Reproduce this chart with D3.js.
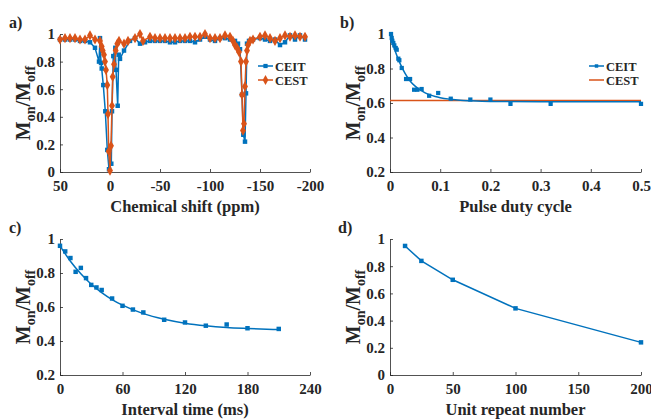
<!doctype html>
<html lang="en">
  <head>
    <meta charset="utf-8">
    <title>CEIT vs CEST</title>
    <script src="https://d3js.org/d3.v7.min.js"></script>
    <style>
      body { margin: 0; background: #fff; }
      svg text { font-family: "Liberation Serif", "Times New Roman", serif; font-weight: bold; fill: #262626; }
    </style>
  </head>
  <body>
    <div id="chart"></div>
    <script>
      // ---- data ----
      // a) Z-spectra
      const shiftCEIT = [50,45,40,35,30,25,20,15,11,10,9,8.3,6.7,4.7,2.7,1,
        -1.3,-2,-3.3,-5.3,-6,-7.7,-8.7,-10,-14,
        -20,-25,-30,-35,-40,-45,-50,-55,-60,-65,-70,-75,-80,-85,-90,-95,-100,-105,-110,-115,-120,-125,
        -128,-130,-132,-133.3,-135,-136,-137,-139,-143,
        -150,-155,-160,-165,-170,-175,-180,-185,-190,-195];
      const ratioCEIT = [0.96,0.96,0.96,0.96,0.95,0.95,0.94,0.90,0.80,0.97,0.79,0.75,0.63,0.44,0.16,0.02,
        0.06,0.44,0.84,0.90,0.74,0.48,0.85,0.82,0.88,
        0.95,0.97,0.93,0.94,0.95,0.95,0.95,0.95,0.94,0.94,0.95,0.95,0.95,0.94,0.96,0.98,0.96,0.95,0.97,0.97,0.96,0.95,
        0.93,0.89,0.56,0.27,0.22,0.57,0.93,0.95,0.96,
        0.97,0.96,0.95,0.96,0.92,0.94,0.99,0.96,0.99,0.96];
      const shiftCEST = [50,45,40,35,30,25,20,15,10,8.3,7.3,6,5,4,2.7,2,1.3,0,
        -1,-2,-2.7,-4,-5.7,-7.3,-9,-14,-18,-25,-30,-33,
        -40,-45,-50,-55,-60,-65,-70,-75,-80,-85,-90,-95,-100,-105,-110,-115,-120,
        -123,-125,-127,-129,-131,-132,-133,-134,-135,-136,-137,-138,-140,-143,
        -150,-155,-160,-165,-170,-175,-180,-185,-190,-195];
      const ratioCEST = [0.96,0.97,0.97,0.97,0.96,0.96,0.99,0.96,0.95,0.91,0.88,0.85,0.80,0.74,0.63,0.42,0.15,0.01,
        0.19,0.48,0.69,0.78,0.88,0.93,0.95,0.93,0.95,0.97,1.0,0.95,
        0.98,0.97,0.97,0.97,0.97,0.97,0.97,0.97,0.98,0.98,0.98,1.0,0.97,0.97,0.97,0.99,0.98,
        0.95,0.92,0.90,0.87,0.80,0.56,0.30,0.35,0.62,0.80,0.88,0.92,0.95,0.96,
        0.98,0.99,0.97,0.95,0.97,0.99,0.98,0.99,0.98,0.98];

      // b) pulse duty cycle
      const dutyCycle = [0.002,0.0034,0.0046,0.0066,0.0086,0.0114,0.0134,0.0166,0.0186,0.0234,0.032,0.040,
        0.048,0.0545,0.063,0.078,0.096,0.121,0.16,0.2,0.24,0.32,0.5];
      const ratioDuty = [1.0,0.977,0.961,0.948,0.934,0.919,0.909,0.857,0.848,0.803,0.739,0.739,
        0.677,0.677,0.681,0.642,0.658,0.625,0.62,0.62,0.595,0.595,0.595];
      const dutyFitX = [0,0.005,0.01,0.015,0.02,0.03,0.04,0.05,0.06,0.07,0.08,0.09,0.1,0.12,0.14,0.16,0.2,0.3,0.5];
      const dutyFitY = [1.0,0.95,0.905,0.865,0.83,0.772,0.728,0.698,0.676,0.659,0.647,0.638,0.631,0.622,0.616,0.613,0.609,0.607,0.607];
      const cestDuty = [0, 0.5];
      const cestLevel = [0.615, 0.615];

      // c) interval time
      const intervalTime = [0,5,10,15,20,25,30,35,40,50,60,70,80,100,120,140,160,180,210];
      const ratioInterval = [0.96,0.927,0.888,0.807,0.83,0.77,0.73,0.715,0.70,0.65,0.607,0.585,0.568,0.525,0.509,0.49,0.497,0.475,0.471];
      const intervalFitX = [0,10,20,30,40,50,60,80,100,120,140,160,180,210];
      const intervalFitY = [0.960,0.869,0.795,0.734,0.685,0.644,0.611,0.561,0.528,0.505,0.490,0.480,0.474,0.467];

      // d) unit repeat number
      const repeatNumber = [12,25,50,100,200];
      const ratioRepeat = [0.949,0.839,0.70,0.49,0.24];

      // ticks
      const ticksShift = [50,0,-50,-100,-150,-200];
      const ticksDuty = [0,0.1,0.2,0.3,0.4,0.5];
      const ticksInterval = [0,60,120,180,240];
      const ticksRepeat = [0,50,100,150,200];
      const ticksRatio0 = [0,0.2,0.4,0.6,0.8,1];
      const ticksRatio2 = [0.2,0.4,0.6,0.8,1];

      const blue = "#0072BD", orange = "#D95319", ink = "#262626";

      const svg = d3.select("#chart").append("svg")
        .attr("width", 651).attr("height", 419);

      function panel(opt) {
        const x = d3.scaleLinear().domain(opt.xDomain).range([opt.left, opt.right]);
        const y = d3.scaleLinear().domain(opt.yDomain).range([opt.bottom, opt.top]);
        const fmt = d => String(+d.toFixed(1));

        const gx = svg.append("g")
          .attr("transform", `translate(0,${opt.bottom})`)
          .call(d3.axisBottom(x).tickValues(opt.xTicks).tickSizeInner(-3).tickSizeOuter(0)
            .tickPadding(8).tickFormat(fmt));
        const gy = svg.append("g")
          .attr("transform", `translate(${opt.left},0)`)
          .call(d3.axisLeft(y).tickValues(opt.yTicks).tickSizeInner(-3).tickSizeOuter(0)
            .tickPadding(5).tickFormat(fmt));
        [gx, gy].forEach(g => {
          g.attr("font-family", null).attr("font-size", 15);
          g.selectAll("path, line").attr("stroke", ink).attr("stroke-width", 0.8);
        });

        // x title
        svg.append("text")
          .attr("x", (opt.left + opt.right) / 2)
          .attr("y", opt.bottom + 40)
          .attr("text-anchor", "middle")
          .attr("font-size", 16.5)
          .text(opt.xTitle);

        // y title M_on / M_off
        const yt = svg.append("text")
          .attr("transform", `translate(${opt.yTitleX},${(opt.top + opt.bottom) / 2}) rotate(-90)`)
          .attr("text-anchor", "middle")
          .attr("font-size", 20);
        yt.append("tspan").text("M");
        yt.append("tspan").attr("font-size", 14).attr("dy", 5).text("on");
        yt.append("tspan").attr("dy", -5).text("/M");
        yt.append("tspan").attr("font-size", 14).attr("dy", 5).text("off");

        // panel letter
        svg.append("text")
          .attr("x", opt.labelX).attr("y", opt.labelY)
          .attr("font-size", 16)
          .text(opt.label);

        return {x, y};
      }

      function drawLine(s, xs, ys, color, curve) {
        svg.append("path")
          .datum(xs.map((v, i) => [v, ys[i]]))
          .attr("fill", "none")
          .attr("stroke", color)
          .attr("stroke-width", 1.5)
          .attr("d", d3.line().x(d => s.x(d[0])).y(d => s.y(d[1])).curve(curve || d3.curveLinear));
      }

      function drawMarkers(s, xs, ys, color, type, size) {
        svg.append("g").selectAll("path")
          .data(xs.map((v, i) => [v, ys[i]]))
          .join("path")
          .attr("transform", d => `translate(${s.x(d[0])},${s.y(d[1])})`)
          .attr("d", d3.symbol().type(type).size(size))
          .attr("fill", color);
      }

      function legend(x0, y0, items) {
        items.forEach((it, i) => {
          const yy = y0 + i * 14;
          svg.append("line")
            .attr("x1", x0).attr("x2", x0 + 15).attr("y1", yy).attr("y2", yy)
            .attr("stroke", it.color).attr("stroke-width", 1.5);
          if (it.symbol) {
            svg.append("path")
              .attr("transform", `translate(${x0 + 7.5},${yy})`)
              .attr("d", d3.symbol().type(it.symbol).size(it.size))
              .attr("fill", it.color);
          }
          svg.append("text")
            .attr("x", x0 + 17).attr("y", yy + 4.5)
            .attr("font-size", 12.5)
            .text(it.name);
        });
      }

      // ---- a) ----
      const pa = panel({left: 60, right: 310, top: 34, bottom: 172,
        xDomain: [50, -200], yDomain: [0, 1], xTicks: ticksShift, yTicks: ticksRatio0,
        xTitle: "Chemical shift (ppm)", yTitleX: 30, label: "a)", labelX: 9, labelY: 28});
      drawLine(pa, shiftCEIT, ratioCEIT, blue);
      drawMarkers(pa, shiftCEIT, ratioCEIT, blue, d3.symbolSquare, 20);
      drawLine(pa, shiftCEST, ratioCEST, orange);
      drawMarkers(pa, shiftCEST, ratioCEST, orange, d3.symbolDiamond, 30);
      legend(258, 66, [
        {name: "CEIT", color: blue, symbol: d3.symbolSquare, size: 18},
        {name: "CEST", color: orange, symbol: d3.symbolDiamond, size: 28}]);

      // ---- b) ----
      const pb = panel({left: 390, right: 641, top: 34, bottom: 172,
        xDomain: [0, 0.5], yDomain: [0.2, 1], xTicks: ticksDuty, yTicks: ticksRatio2,
        xTitle: "Pulse duty cycle", yTitleX: 360, label: "b)", labelX: 340, labelY: 28});
      drawLine(pb, cestDuty, cestLevel, orange);
      drawLine(pb, dutyFitX, dutyFitY, blue, d3.curveMonotoneX);
      drawMarkers(pb, dutyCycle, ratioDuty, blue, d3.symbolSquare, 18);
      legend(589, 66, [
        {name: "CEIT", color: blue, symbol: d3.symbolSquare, size: 12},
        {name: "CEST", color: orange}]);

      // ---- c) ----
      const pc = panel({left: 60, right: 310, top: 239, bottom: 375,
        xDomain: [0, 240], yDomain: [0.2, 1], xTicks: ticksInterval, yTicks: ticksRatio2,
        xTitle: "Interval time (ms)", yTitleX: 30, label: "c)", labelX: 9, labelY: 233});
      drawLine(pc, intervalFitX, intervalFitY, blue, d3.curveMonotoneX);
      drawMarkers(pc, intervalTime, ratioInterval, blue, d3.symbolSquare, 20);

      // ---- d) ----
      const pd = panel({left: 390, right: 641, top: 239, bottom: 375,
        xDomain: [0, 200], yDomain: [0, 1], xTicks: ticksRepeat, yTicks: ticksRatio0,
        xTitle: "Unit repeat number", yTitleX: 360, label: "d)", labelX: 338, labelY: 233});
      drawLine(pd, repeatNumber, ratioRepeat, blue);
      drawMarkers(pd, repeatNumber, ratioRepeat, blue, d3.symbolSquare, 20);
    </script>
  </body>
</html>
